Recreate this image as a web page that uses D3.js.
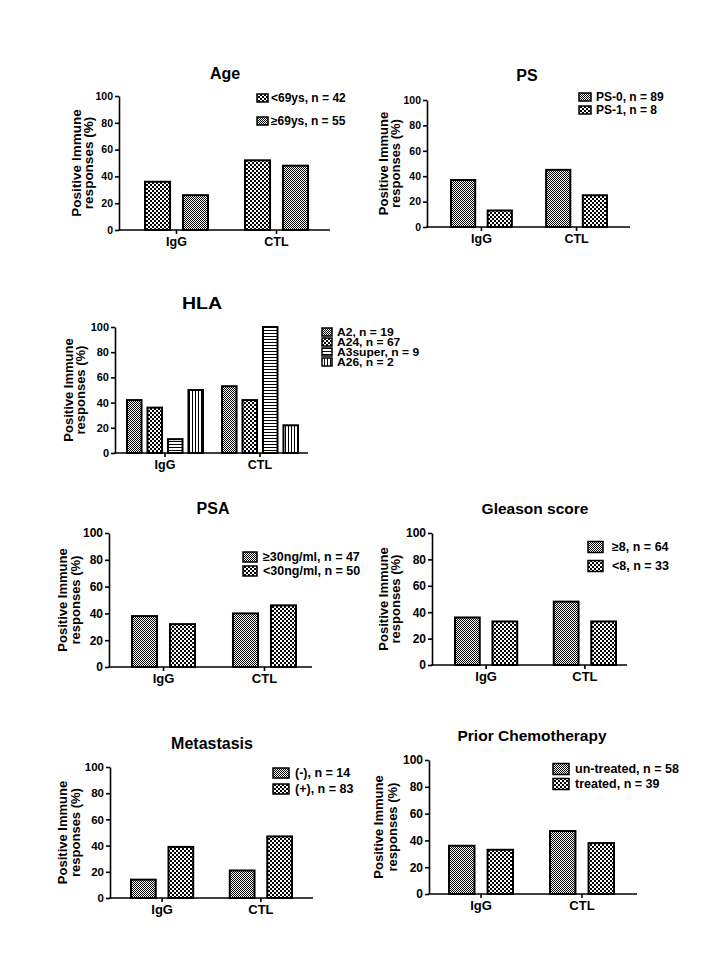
<!DOCTYPE html>
<html><head><meta charset="utf-8">
<script src="https://cdn.jsdelivr.net/npm/d3@7"></script>
<style>
body{margin:0;background:#fff}
svg{display:block}
text{font-family:"Liberation Sans",Arial,sans-serif;font-weight:bold;fill:#000}
</style>
</head><body><svg id="c" width="720" height="960"></svg>
<script>
// ---------- data ----------
const categories = ["IgG", "CTL"];
const yTicks = [0, 20, 40, 60, 80, 100];
const yLabelLines = ["Positive Immune", "responses (%)"];

const ageSeries = ["<69ys, n = 42", "\u226569ys, n = 55"];
const ageValues = [[36, 52], [26, 48]];

const psSeries = ["PS-0, n = 89", "PS-1, n = 8"];
const psValues = [[37, 45], [13, 25]];

const hlaSeries = ["A2, n = 19", "A24, n = 67", "A3super, n = 9", "A26, n = 2"];
const hlaValues = [[42, 53], [36, 42], [11, 100], [50, 22]];

const psaSeries = ["\u226530ng/ml, n = 47", "<30ng/ml, n = 50"];
const psaValues = [[38, 40], [32, 46]];

const gleasonSeries = ["\u22658, n = 64", "<8, n = 33"];
const gleasonValues = [[36, 48], [33, 33]];

const metSeries = ["(-), n = 14", "(+), n = 83"];
const metValues = [[14, 21], [39, 47]];

const chemoSeries = ["un-treated, n = 58", "treated, n = 39"];
const chemoValues = [[36, 47], [33, 38]];

// ---------- layout ----------
const panels = [
  {title: "Age", series: ageSeries, values: ageValues, fills: ["coarse", "fine"],
   L: {left:119, right:330, top:96, bottom:230, barA:145, barB:308, gp:0.37, bp:0.34,
       tx:225, ty:73, tsize:16, tsx:1, tick:10.5, lab:13.5, labOff:[43,31], catSize:12.5,
       legX:257, legY:98, legDy:23, bw:11, bh:8, legTx:14, legSize:12, legSx:1}},
  {title: "PS", series: psSeries, values: psValues, fills: ["fine", "coarse"],
   L: {left:427, right:630, top:100, bottom:227, barA:451, barB:607, gp:0.36, bp:0.34,
       tx:527, ty:75, tsize:16, tsx:1, tick:10.5, lab:13, labOff:[44,32], catSize:12.5,
       legX:579, legY:97, legDy:13, bw:12, bh:8, legTx:17, legSize:12, legSx:1}},
  {title: "HLA", series: hlaSeries, values: hlaValues, fills: ["fine", "coarse", "hstripe", "vstripe"],
   L: {left:115, right:308, top:327, bottom:453, barA:127, barB:298, gp:0.2, bp:0.29,
       tx:202, ty:303, tsize:17, tsx:1.15, tick:11, lab:13, labOff:[47,35], catSize:12.5,
       legX:322, legY:332, legDy:10, bw:10, bh:8, legTx:15, legSize:10.5, legSx:1.15}},
  {title: "PSA", series: psaSeries, values: psaValues, fills: ["fine", "coarse"],
   L: {left:109, right:312, top:533, bottom:667, barA:132, barB:296, gp:0.376, bp:0.34,
       tx:213, ty:508, tsize:16, tsx:1, tick:12, lab:13, labOff:[47,34], catSize:13,
       legX:243, legY:557, legDy:14, bw:14, bh:10, legTx:20, legSize:12.5, legSx:1}},
  {title: "Gleason score", series: gleasonSeries, values: gleasonValues, fills: ["fine", "coarse"],
   L: {left:432, right:627, top:533, bottom:665, barA:455, barB:616, gp:0.37, bp:0.34,
       tx:535, ty:508, tsize:15.5, tsx:1, tick:12, lab:13, labOff:[49,37], catSize:13,
       legX:588, legY:547, legDy:19, bw:15, bh:11, legTx:24, legSize:12.5, legSx:1}},
  {title: "Metastasis", series: metSeries, values: metValues, fills: ["fine", "coarse"],
   L: {left:110, right:313, top:767, bottom:898, barA:131, barB:292, gp:0.37, bp:0.34,
       tx:212, ty:743, tsize:16, tsx:1, tick:11.5, lab:13, labOff:[48,35], catSize:13,
       legX:273, legY:773, legDy:16, bw:16, bh:10, legTx:22, legSize:12.5, legSx:1}},
  {title: "Prior Chemotherapy", series: chemoSeries, values: chemoValues, fills: ["fine", "coarse"],
   L: {left:429, right:637, top:760, bottom:894, barA:449, barB:614, gp:0.366, bp:0.34,
       tx:532, ty:735, tsize:15.5, tsx:1, tick:12, lab:13, labOff:[51,37], catSize:13,
       legX:553, legY:769, legDy:15, bw:16, bh:11, legTx:22, legSize:12.5, legSx:1}}
];

const svg = d3.select("#c");
const defs = svg.append("defs");

// patterns
(function(){
  let p = defs.append("pattern").attr("id","fine").attr("patternUnits","userSpaceOnUse").attr("width",2).attr("height",2);
  p.append("rect").attr("width",2).attr("height",2).attr("fill","#fff");
  p.append("rect").attr("width",1).attr("height",1).attr("fill","#000");
  p.append("rect").attr("x",1).attr("y",1).attr("width",1).attr("height",1).attr("fill","#000");

  p = defs.append("pattern").attr("id","coarse").attr("patternUnits","userSpaceOnUse").attr("width",4).attr("height",4);
  p.append("rect").attr("width",4).attr("height",4).attr("fill","#000");
  p.append("rect").attr("width",2).attr("height",2).attr("fill","#fff");
  p.append("rect").attr("x",2).attr("y",2).attr("width",2).attr("height",2).attr("fill","#fff");

  p = defs.append("pattern").attr("id","hstripe").attr("patternUnits","userSpaceOnUse").attr("width",3).attr("height",3);
  p.append("rect").attr("width",3).attr("height",3).attr("fill","#fff");
  p.append("rect").attr("width",3).attr("height",1).attr("fill","#000");

  p = defs.append("pattern").attr("id","vstripe").attr("patternUnits","userSpaceOnUse").attr("width",3).attr("height",3);
  p.append("rect").attr("width",3).attr("height",3).attr("fill","#fff");
  p.append("rect").attr("width",1).attr("height",3).attr("fill","#000");
})();

panels.forEach(pn => {
  const L = pn.L;
  const g = svg.append("g");
  const y = d3.scaleLinear().domain([0, 100]).range([L.bottom, L.top]);
  const x0 = d3.scaleBand().domain(categories).range([L.barA, L.barB]).paddingInner(L.gp).paddingOuter(0);
  const x1 = d3.scaleBand().domain(d3.range(pn.series.length)).range([0, x0.bandwidth()]).paddingInner(L.bp).paddingOuter(0);

  // title
  g.append("text").attr("transform", `translate(${L.tx},${L.ty}) scale(${L.tsx},1)`)
    .attr("text-anchor","middle").attr("dominant-baseline","central")
    .style("font-size", L.tsize + "px").text(pn.title);

  // bars
  pn.series.forEach((s, si) => {
    g.selectAll(null).data(categories).enter().append("rect")
      .attr("x", c => x0(c) + x1(si))
      .attr("width", x1.bandwidth())
      .attr("y", (c, ci) => y(pn.values[si][ci]))
      .attr("height", (c, ci) => L.bottom - y(pn.values[si][ci]))
      .attr("fill", "url(#" + pn.fills[si] + ")")
      .attr("stroke", "#000").attr("stroke-width", 2);
  });

  // y axis
  const ya = g.append("g").attr("transform", `translate(${L.left},0)`)
    .call(d3.axisLeft(y).tickValues(yTicks).tickSize(4).tickSizeOuter(0).tickPadding(2));
  ya.select(".domain").attr("stroke","#000").attr("stroke-width",1.6);
  ya.selectAll(".tick line").attr("stroke","#000").attr("stroke-width",1.6);
  ya.selectAll(".tick text").style("font-size", L.tick + "px");

  // x axis
  const xa = g.append("g").attr("transform", `translate(0,${L.bottom})`)
    .call(d3.axisBottom(x0).tickSize(4).tickSizeOuter(0).tickPadding(3));
  xa.select(".domain").remove();
  xa.selectAll(".tick line").attr("stroke","#000").attr("stroke-width",1.6);
  xa.selectAll(".tick text").style("font-size", L.catSize + "px");
  g.append("line").attr("x1", L.left - 0.8).attr("x2", L.right).attr("y1", L.bottom).attr("y2", L.bottom)
    .attr("stroke","#000").attr("stroke-width",1.6);

  // y label
  const cy = (L.top + L.bottom) / 2;
  yLabelLines.forEach((t, i) => {
    g.append("text")
      .attr("transform", `translate(${L.left - L.labOff[i]},${cy}) rotate(-90)`)
      .attr("text-anchor","middle").attr("dominant-baseline","central")
      .style("font-size", L.lab + "px").text(t);
  });

  // legend
  pn.series.forEach((s, si) => {
    const ly = L.legY + si * L.legDy;
    g.append("rect").attr("x", L.legX).attr("y", ly - L.bh / 2).attr("width", L.bw).attr("height", L.bh)
      .attr("fill", "url(#" + pn.fills[si] + ")").attr("stroke","#000").attr("stroke-width",1.5);
    g.append("text").attr("transform", `translate(${L.legX + L.legTx},${ly}) scale(${L.legSx},1)`)
      .attr("dominant-baseline","central")
      .style("font-size", L.legSize + "px").text(s);
  });
});
</script>
</body></html>
